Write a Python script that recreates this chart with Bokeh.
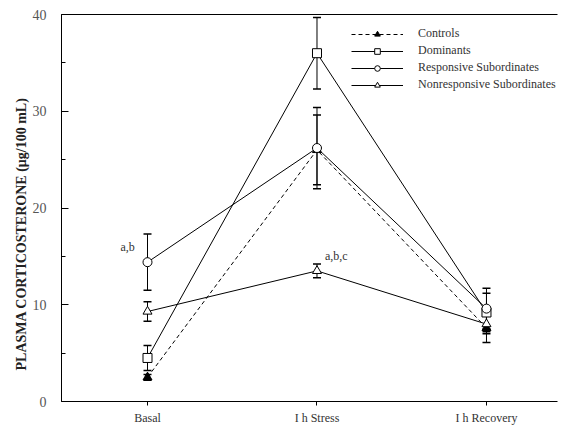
from bokeh.plotting import figure
from bokeh.models import (Range1d, LinearAxis, SingleIntervalTicker, FixedTicker,
                          Legend, LegendItem, Whisker, TeeHead, ColumnDataSource, Label, Title)
from bokeh.embed import file_html
from bokeh.resources import INLINE

categories = ["Basal", "I h Stress", "I h Recovery"]
x_pos = [1, 2, 3]

controls = [2.5, 26.0, 7.6]
controls_err = [0.3, 3.6, 1.5]
dominants = [4.5, 36.0, 9.2]
dominants_err = [1.3, 3.7, 2.0]
responsive = [14.4, 26.2, 9.6]
responsive_err = [2.9, 4.2, 2.1]
nonresponsive = [9.3, 13.5, 8.0]
nonresponsive_err = [1.0, 0.7, 1.0]

FONT = "Liberation Serif"

p = figure(width=567, height=429, output_backend="svg", toolbar_location=None,
           x_range=Range1d(0.4926, 3.419), y_range=Range1d(0, 40),
           min_border_left=61, min_border_right=10, min_border_top=14,
           min_border_bottom=28, x_axis_type=None, y_axis_type=None)
p.outline_line_color = None
p.grid.visible = False
p.background_fill_color = "white"

# y axis
yax = LinearAxis(ticker=SingleIntervalTicker(interval=10, num_minor_ticks=2))
yax.major_tick_in = 7
yax.major_tick_out = 0
yax.minor_tick_in = 4
yax.minor_tick_out = 0
yax.major_label_text_font = FONT
yax.major_label_text_font_size = "14px"
yax.major_label_text_color = "#555555"
yax.major_label_standoff = 15
yax.axis_line_color = "black"
p.add_layout(yax, "left")

# y axis title, starting near the bottom as in the original
p.add_layout(Title(text="PLASMA  CORTICOSTERONE  (\u03bcg/100  mL)",
                   align="left", offset=31, standoff=2,
                   text_font=FONT, text_font_style="bold", text_font_size="14px",
                   text_color="#222222"), "left")

# x axis
xax = LinearAxis(ticker=FixedTicker(ticks=x_pos))
xax.major_label_overrides = {x: c for x, c in zip(x_pos, categories)}
xax.major_tick_in = 0
xax.major_tick_out = 4
xax.minor_tick_line_color = None
xax.major_label_text_font = FONT
xax.major_label_text_font_size = "12px"
xax.major_label_text_color = "#333333"
xax.major_label_standoff = 5
p.add_layout(xax, "below")

# top line
tax = LinearAxis(ticker=FixedTicker(ticks=[]))
tax.major_label_text_font_size = "0px"
tax.major_tick_line_color = None
tax.minor_tick_line_color = None
p.add_layout(tax, "above")

series = [
    ("Controls", controls, controls_err, "triangle", "black", "4 3"),
    ("Dominants", dominants, dominants_err, "square", "white", "solid"),
    ("Responsive Subordinates", responsive, responsive_err, "circle", "white", "solid"),
    ("Nonresponsive Subordinates", nonresponsive, nonresponsive_err, "triangle", "white", "solid"),
]

items = []
for name, vals, errs, marker, fill, dash in series:
    src = ColumnDataSource(dict(x=x_pos, y=vals,
                                lo=[v - e for v, e in zip(vals, errs)],
                                hi=[v + e for v, e in zip(vals, errs)]))
    w = Whisker(source=src, base="x", lower="lo", upper="hi",
                line_color="black", line_width=1,
                upper_head=TeeHead(size=8, line_color="black", line_width=1.5),
                lower_head=TeeHead(size=8, line_color="black", line_width=1.5))
    p.add_layout(w)
    ln = p.line("x", "y", source=src, line_color="black", line_width=1, line_dash=dash)
    mk = p.scatter("x", "y", source=src, marker=marker, size=9,
                   fill_color=fill, line_color="black", line_width=1)
    items.append(LegendItem(label=name, renderers=[ln, mk]))

legend = Legend(items=items, location=(290, 309))
legend.glyph_width = 52
legend.glyph_height = 14
legend.label_height = 14
legend.label_text_font = FONT
legend.label_text_font_size = "12px"
legend.label_text_color = "#333333"
legend.label_standoff = 15
legend.spacing = 2
legend.border_line_color = None
legend.background_fill_alpha = 0
legend.padding = 4
legend.margin = 0
p.add_layout(legend)

p.add_layout(Label(x=1, y=15.2, text="a,b", x_offset=-27, text_font=FONT,
                   text_font_size="12px", text_color="#333333"))
p.add_layout(Label(x=2, y=14.3, text="a,b,c", x_offset=8, text_font=FONT,
                   text_font_size="12px", text_color="#333333"))

open("out.html", "w").write(file_html(p, INLINE))
